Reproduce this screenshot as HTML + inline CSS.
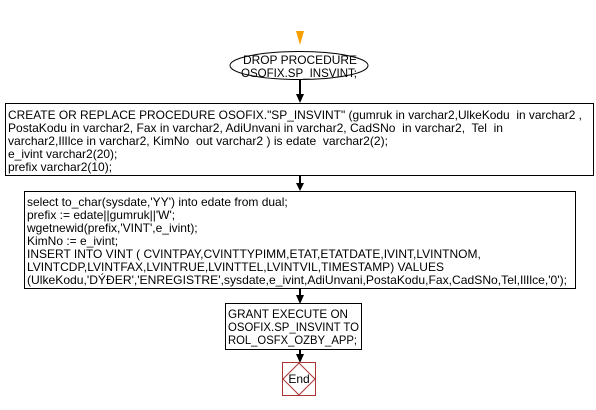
<!DOCTYPE html>
<html><head><meta charset="utf-8"><style>
html,body{margin:0;padding:0;background:#fff;width:596px;height:410px;overflow:hidden}
svg text{font-family:"Liberation Sans",Arial,sans-serif;font-size:12px;fill:#000;white-space:pre}
</style></head><body>
<svg width="596" height="410" xmlns="http://www.w3.org/2000/svg">
<polygon points="296,31 304,31 300,45" fill="#f5a000"/>
<line x1="300" y1="31" x2="300" y2="40" stroke="#f5a000" stroke-width="3"/>
<ellipse cx="299" cy="65.5" rx="69" ry="14" fill="#fff" stroke="#000"/>
<text x="243" y="64" textLength="114" lengthAdjust="spacingAndGlyphs">DROP PROCEDURE</text>
<text x="241" y="77" textLength="116" lengthAdjust="spacingAndGlyphs">OSOFIX.SP_INSVINT;</text>
<line x1="300" y1="80" x2="300" y2="96" stroke="#000" stroke-width="2"/>
<polygon points="296,94 304,94 300,103" fill="#000"/>
<rect x="5.5" y="103.5" width="588" height="72" fill="#fff" stroke="#000"/>
<text x="8" y="119" textLength="574" lengthAdjust="spacingAndGlyphs">CREATE OR REPLACE PROCEDURE OSOFIX."SP_INSVINT" (gumruk in varchar2,UlkeKodu  in varchar2 ,</text>
<text x="8" y="132" textLength="495" lengthAdjust="spacingAndGlyphs">PostaKodu in varchar2, Fax in varchar2, AdiUnvani in varchar2, CadSNo  in varchar2,  Tel  in</text>
<text x="8" y="145" textLength="380" lengthAdjust="spacingAndGlyphs">varchar2,IlIlce in varchar2, KimNo  out varchar2 ) is edate  varchar2(2);</text>
<text x="8" y="158">e_ivint varchar2(20);</text>
<text x="8" y="171">prefix varchar2(10);</text>
<line x1="300" y1="176" x2="300" y2="185" stroke="#000" stroke-width="2"/>
<polygon points="296,183 304,183 300,191" fill="#000"/>
<rect x="24.5" y="191.5" width="551" height="97" fill="#fff" stroke="#000"/>
<text x="27" y="206">select to_char(sysdate,'YY') into edate from dual;</text>
<text x="27" y="219">prefix := edate||gumruk||'W';</text>
<text x="27" y="232">wgetnewid(prefix,'VINT',e_ivint);</text>
<text x="27" y="245">KimNo := e_ivint;</text>
<text x="27" y="258">INSERT INTO VINT ( CVINTPAY,CVINTTYPIMM,ETAT,ETATDATE,IVINT,LVINTNOM,</text>
<text x="27" y="271">LVINTCDP,LVINTFAX,LVINTRUE,LVINTTEL,LVINTVIL,TIMESTAMP) VALUES</text>
<text x="27" y="284" textLength="540" lengthAdjust="spacingAndGlyphs">(UlkeKodu,'DÝÐER','ENREGISTRE',sysdate,e_ivint,AdiUnvani,PostaKodu,Fax,CadSNo,Tel,IlIlce,'0');</text>
<line x1="300" y1="289" x2="300" y2="297" stroke="#000" stroke-width="2"/>
<polygon points="296,295 304,295 300,304" fill="#000"/>
<rect x="225.5" y="303.5" width="136" height="46" fill="#fff" stroke="#000"/>
<text x="228" y="318" textLength="120" lengthAdjust="spacingAndGlyphs">GRANT EXECUTE ON</text>
<text x="228" y="331" textLength="131" lengthAdjust="spacingAndGlyphs">OSOFIX.SP_INSVINT TO</text>
<text x="228" y="344" textLength="129" lengthAdjust="spacingAndGlyphs">ROL_OSFX_OZBY_APP;</text>
<line x1="300" y1="350" x2="300" y2="356" stroke="#000" stroke-width="2"/>
<polygon points="296,354 304,354 300,363" fill="#000"/>
<rect x="282.5" y="362.5" width="33" height="33" fill="#fff" stroke="#a33"/>
<polygon points="299,363 315,379 299,395 283,379" fill="#fff" stroke="#a33"/>
<text x="299" y="383" text-anchor="middle">End</text>
</svg>
</body></html>
